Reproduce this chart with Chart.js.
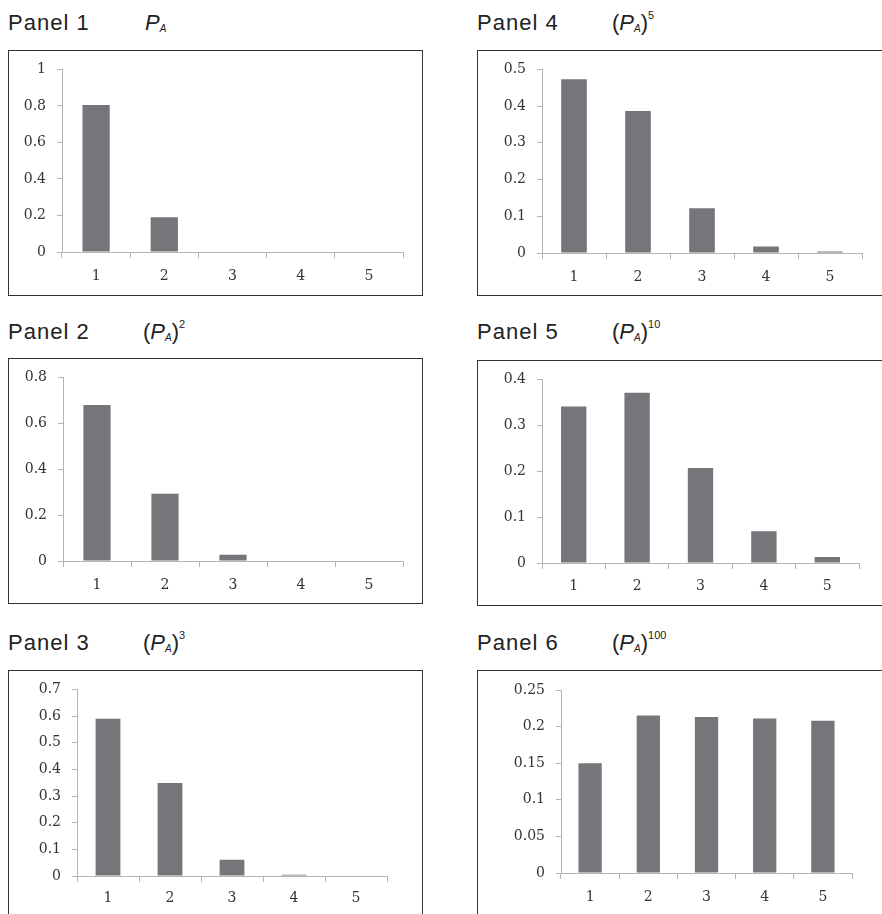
<!DOCTYPE html>
<html>
<head>
<meta charset="utf-8">
<script src="https://cdn.jsdelivr.net/npm/chart.js@4/dist/chart.umd.min.js"></script>
<style>
    html, body { margin: 0; padding: 0; background: #fff; }
    body { width: 882px; height: 914px; overflow: hidden; position: relative; font-family: "Liberation Sans", Arial, sans-serif; }
    .title { position: absolute; font-size: 22px; line-height: 22px; color: #222; letter-spacing: 1px; white-space: nowrap; }
    .math { position: absolute; font-size: 22px; line-height: 22px; color: #222; white-space: nowrap; }
    .math sub { font-size: 10px; line-height: 0; vertical-align: baseline; position: relative; top: 2px; font-style: italic; }
    .math sup { font-size: 11px; line-height: 0; vertical-align: baseline; position: relative; top: -11px; }
    .box { position: absolute; border: 1.5px solid #333; box-sizing: border-box; }
    canvas { position: absolute; }
</style>
</head>
<body>
<script>
// categories on the x axis
const categories = ['1', '2', '3', '4', '5'];

// bar heights per panel
const panel1Values = [0.805, 0.19, 0, 0, 0];
const panel2Values = [0.68, 0.293, 0.027, 0, 0];
const panel3Values = [0.59, 0.349, 0.061, 0.005, 0];
const panel4Values = [0.473, 0.387, 0.122, 0.018, 0.004];
const panel5Values = [0.341, 0.371, 0.207, 0.069, 0.013];
const panel6Values = [0.150, 0.215, 0.213, 0.211, 0.208];

// y axis range and tick step per panel
const yMax = [1, 0.8, 0.7, 0.5, 0.4, 0.25];
const yStep = [0.2, 0.2, 0.1, 0.1, 0.1, 0.05];

// titles
const panelNames = ['Panel 1', 'Panel 2', 'Panel 3', 'Panel 4', 'Panel 5', 'Panel 6'];
const panelExponents = ['', '2', '3', '5', '10', '100'];

const panelValues = [panel1Values, panel2Values, panel3Values, panel4Values, panel5Values, panel6Values];

// page layout: box, plot area and title baseline for each panel
const layout = [
    { box: [8, 50, 415, 246],   plot: [62, 69, 403, 252],  base: 31,  xPad: 10 },
    { box: [8, 358, 415, 246],  plot: [63, 377, 403, 561], base: 340, xPad: 10 },
    { box: [8, 670, 415, 270],  plot: [77, 689, 387, 876], base: 651, xPad: 8 },
    { box: [477, 50, 420, 246], plot: [542, 69, 862, 253], base: 31,  xPad: 10 },
    { box: [477, 360, 420, 246], plot: [542, 379, 859, 563], base: 340, xPad: 9 },
    { box: [477, 670, 420, 270], plot: [561, 690, 852, 873], base: 651, xPad: 10 }
];

const tickFont = { family: 'DejaVu Serif', size: 14 };
const axisGray = '#b5b5b5';

function fmt(v) {
    return String(parseFloat(Number(v).toFixed(3)));
}

layout.forEach(function (p, i) {
    const [bx, by, bw, bh] = p.box;
    const [pl, pt, pr, pb] = p.plot;

    // title
    const t = document.createElement('div');
    t.className = 'title';
    t.textContent = panelNames[i];
    t.style.left = bx + 'px';
    t.style.top = (p.base - 18.6) + 'px';
    document.body.appendChild(t);

    const m = document.createElement('div');
    m.className = 'math';
    const exp = panelExponents[i];
    m.innerHTML = exp
        ? '(<i>P</i><sub>A</sub>)<sup>' + exp + '</sup>'
        : '<i>P</i><sub>A</sub>';
    m.style.left = (bx + (exp ? 135 : 137)) + 'px';
    m.style.top = (p.base - 18.6) + 'px';
    document.body.appendChild(m);

    // frame
    const box = document.createElement('div');
    box.className = 'box';
    box.style.left = bx + 'px';
    box.style.top = by + 'px';
    box.style.width = bw + 'px';
    box.style.height = bh + 'px';
    document.body.appendChild(box);

    const canvas = document.createElement('canvas');
    canvas.width = bw;
    canvas.height = bh;
    canvas.style.left = bx + 'px';
    canvas.style.top = by + 'px';
    document.body.appendChild(canvas);

    new Chart(canvas.getContext('2d'), {
        type: 'bar',
        data: {
            labels: categories,
            datasets: [{
                data: panelValues[i],
                backgroundColor: '#75767a',
                borderWidth: 0,
                barPercentage: 0.4,
                categoryPercentage: 1
            }]
        },
        options: {
            responsive: false,
            animation: false,
            layout: {
                padding: { left: 0, top: pt - by, right: bx + bw - pr, bottom: 0 }
            },
            plugins: {
                legend: { display: false },
                tooltip: { enabled: false }
            },
            scales: {
                x: {
                    afterFit: function (scale) { scale.height = by + bh - pb; },
                    grid: { drawOnChartArea: false, drawTicks: true, tickLength: 6, color: axisGray, offset: true },
                    border: { color: axisGray, width: 1 },
                    ticks: { color: '#333', font: tickFont, padding: p.xPad, maxRotation: 0 }
                },
                y: {
                    min: 0,
                    max: yMax[i],
                    afterFit: function (scale) { scale.width = pl - bx; },
                    grid: { drawOnChartArea: false, drawTicks: true, tickLength: 5, color: axisGray },
                    border: { color: axisGray, width: 1 },
                    ticks: {
                        stepSize: yStep[i],
                        color: '#333',
                        font: tickFont,
                        padding: 11,
                        callback: fmt
                    }
                }
            }
        }
    });
});
</script>
</body>
</html>
